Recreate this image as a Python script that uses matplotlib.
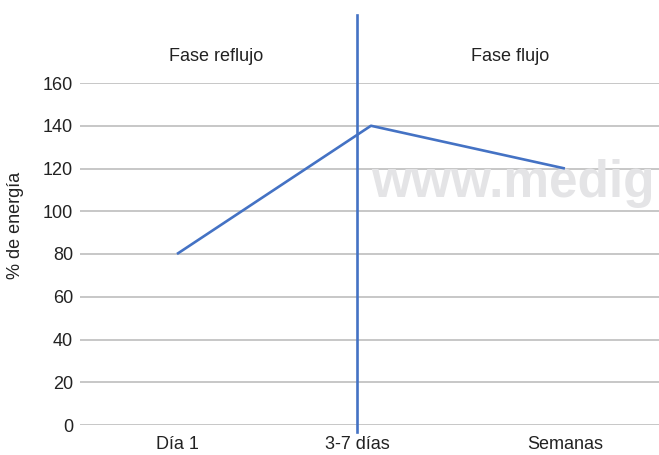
import matplotlib
matplotlib.use("Agg")
import matplotlib.pyplot as plt

categories = ["Día 1", "3-7 días", "Semanas"]
values = [80, 140, 120]
y_ticks = [0, 20, 40, 60, 80, 100, 120, 140, 160]
phase_labels = ["Fase reflujo", "Fase flujo"]
ylabel = "% de energía"
watermark = "www.medig"

plt.rcParams['font.family'] = ['Liberation Sans', 'DejaVu Sans']

fig = plt.figure(figsize=(6.59, 4.55), dpi=100)
ax = fig.add_axes([80/659, 1-425/455, 1-80/659, (425-83)/455])

xs = list(range(len(categories)))
ax.plot(xs, values, color="#4472c4", lw=1.9, solid_capstyle="butt", zorder=4)

ax.set_xlim(-0.5, 2.485)
ax.set_ylim(0, 160)
ax.set_yticks(y_ticks)
ax.set_yticklabels([str(v) for v in y_ticks])
ax.yaxis.grid(True, color="#bdbdbd", lw=1.2)
ax.set_axisbelow(True)
for s in ax.spines.values():
    s.set_visible(False)
ax.tick_params(axis="both", length=0, labelsize=13, labelcolor="#222222")
ax.tick_params(axis="y", pad=5)
ax.tick_params(axis="x", pad=8)

# divider between phases
div_x = 0.928
ax.set_xticks([0, div_x, 2])
ax.set_xticklabels(categories)
ax.plot([div_x, div_x], [-3.3, 192], color="#4472c4", lw=1.9, clip_on=False, zorder=5)

ax.text(0.2, 172.5, phase_labels[0], ha="center", va="center", fontsize=13, color="#222222")
ax.text(1.72, 172.5, phase_labels[1], ha="center", va="center", fontsize=13, color="#222222")

ax.text(1.0, 106.7, watermark, ha="left", va="baseline", fontsize=37, fontweight="bold",
        color="#e4e4e6", zorder=1)

fig.text(16/659, 1-225/455, ylabel, rotation=90, ha="center", va="center",
         fontsize=13, color="#222222")

fig.savefig("out.png", dpi=100)
